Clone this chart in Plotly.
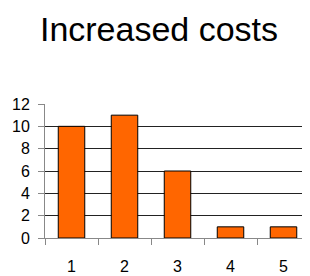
import plotly.graph_objects as go

categories = ["1", "2", "3", "4", "5"]
values = [10, 11, 6, 1, 1]
y_ticks = [0, 2, 4, 6, 8, 10, 12]

fig = go.Figure(go.Bar(
    x=categories, y=values,
    marker=dict(color="#FF6600", line=dict(color="#000000", width=1)),
))

# the page body adds an 8px margin, so the figure is sized/placed to compensate
fig.update_layout(
    width=302, height=268,
    margin=dict(l=37, r=0, t=96, b=38),
    paper_bgcolor="white", plot_bgcolor="white",
    font=dict(family="Liberation Sans, Arial, sans-serif", size=16, color="#000"),
    title=dict(text="Increased costs", font=dict(size=34, color="#000"),
               x=151/302, xanchor="center", xref="container",
               y=1 - 21/268, yanchor="middle", yref="container"),
    bargap=0.5,
    showlegend=False,
)
fig.update_xaxes(type="category", tickson="boundaries", ticks="outside", ticklen=6,
                 tickcolor="#888", showline=True, linecolor="#888", linewidth=1,
                 showgrid=False, ticklabelstandoff=14)
fig.update_yaxes(range=[0, 12], tickvals=y_ticks, ticks="outside", ticklen=6,
                 tickcolor="#888", showline=True, linecolor="#888", linewidth=1,
                 showgrid=True, gridcolor="#222", gridwidth=1, zeroline=False,
                 ticklabelstandoff=5)

fig.write_html("out.html")
